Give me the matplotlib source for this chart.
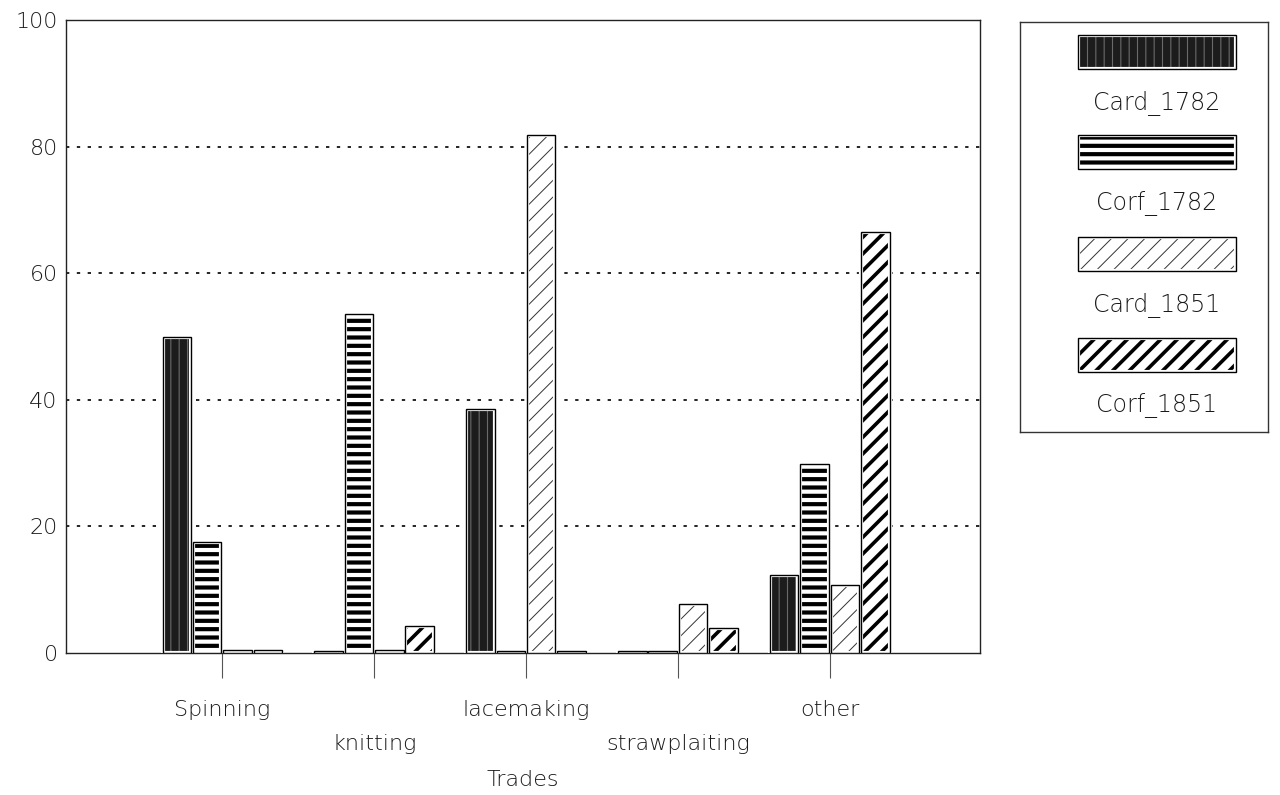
import matplotlib.pyplot as plt
import numpy as np

plt.rcParams['font.family'] = ['DejaVu Sans']
plt.rcParams['font.weight'] = 'light'
plt.rcParams['axes.labelweight'] = 'light'

trades = ["Spinning", "knitting", "lacemaking", "strawplaiting", "other"]
series_names = ["Card_1782", "Corf_1782", "Card_1851", "Corf_1851"]
card_1782 = [50.0, 0.3, 38.5, 0.3, 12.3]
corf_1782 = [17.5, 53.5, 0.3, 0.3, 29.8]
card_1851 = [0.5, 0.5, 81.8, 7.8, 10.8]
corf_1851 = [0.5, 4.2, 0.3, 4.0, 66.5]
yticks = [0, 20, 40, 60, 80, 100]

# look of each series: face, hatch, hatch colour, hatch width
styles = [
    dict(face="#1c1c1c", hatch="||", hcol="#6a6a6a", hlw=0.8),
    dict(face="white", hatch="--", hcol="black", hlw=3.0),
    dict(face="white", hatch="//", hcol="#333333", hlw=0.7),
    dict(face="white", hatch="//", hcol="black", hlw=2.6),
]

txt = "#1a1a1a"

fig = plt.figure(figsize=(12.8, 7.95), dpi=100)
ax = fig.add_axes([66/1280, 1-653/795, 914/1280, 633/795])

x = np.arange(len(trades))
w = 0.2
all_vals = [card_1782, corf_1782, card_1851, corf_1851]


def hatched_bar(axis, xs, hs, width, st, bottom=0):
    bars = axis.bar(xs, hs, width, bottom=bottom, color=st["face"],
                    edgecolor=st["hcol"], hatch=st["hatch"], linewidth=0,
                    zorder=3)
    for b in bars:
        if hasattr(b, "set_hatch_linewidth"):
            b.set_hatch_linewidth(st["hlw"])
    # white gap plus thin black outline
    axis.bar(xs, hs, width, bottom=bottom, fill=False, edgecolor="white",
             linewidth=3.0, zorder=4)
    axis.bar(xs, hs, width, bottom=bottom, fill=False, edgecolor="black",
             linewidth=1.0, zorder=5)
    return bars


for i, vals in enumerate(all_vals):
    hatched_bar(ax, x + (i - 1.5) * w, vals, w * 0.94, styles[i])

ax.set_xlim(-1.03, 4.99)
ax.set_ylim(0, 100)
ax.set_yticks(yticks)
ax.set_yticklabels([str(v) for v in yticks], color=txt, fontsize=16)
ax.tick_params(axis="y", length=0, pad=6)
ax.yaxis.grid(True, color="black", linestyle=(0, (2, 4.5)), linewidth=1.2)
gl = ax.yaxis.get_gridlines()
gl[0].set_visible(False)
gl[-1].set_visible(False)
ax.set_axisbelow(True)

ax.set_xticks(x)
ax.set_xticklabels(trades, color=txt, fontsize=16)
ax.tick_params(axis="x", direction="out", length=18, width=0.8, color="#555555")
for i, t in enumerate(ax.xaxis.get_major_ticks()):
    t.set_pad(16 if i % 2 == 0 else 40)
ax.set_xlabel("Trades", color=txt, fontsize=16, labelpad=12)

for s in ax.spines.values():
    s.set_color("#222222")
    s.set_linewidth(1.0)

# legend: patch above its label
lax = fig.add_axes([1020/1280, 1-432/795, 248/1280, 410/795])
lax.set_xlim(0, 248)
lax.set_ylim(410, 0)
lax.set_xticks([])
lax.set_yticks([])
for s in lax.spines.values():
    s.set_color("#333333")
    s.set_linewidth(1.0)
patch_tops = [13, 113, 215, 316]
for i, name in enumerate(series_names):
    hatched_bar(lax, [137], [34], 158, styles[i], bottom=patch_tops[i])
    lax.text(137, patch_tops[i] + 68, name, ha="center", va="center",
             color=txt, fontsize=17)

plt.savefig("out.png", dpi=100)
